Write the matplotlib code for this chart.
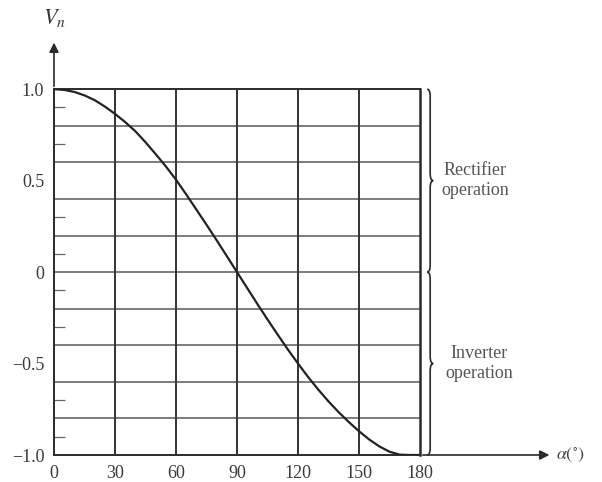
import matplotlib.pyplot as plt
from matplotlib.path import Path
from matplotlib.patches import PathPatch

plt.rcParams['font.family'] = ['Liberation Serif', 'DejaVu Serif']
plt.rcParams['mathtext.fontset'] = 'stix'

# values (alpha in degrees, normalised Vn)
alpha = [0, 5, 10, 15, 20, 25, 30, 35, 40, 45, 50, 55, 60, 65, 70, 75, 80, 85, 90,
         95, 100, 105, 110, 115, 120, 125, 130, 135, 140, 145, 150, 155, 160, 165,
         170, 175, 180]
vn = [1.0, 0.996, 0.985, 0.966, 0.94, 0.905, 0.865, 0.82, 0.77, 0.71, 0.645,
      0.578, 0.505, 0.425, 0.342, 0.259, 0.174, 0.087, 0.0, -0.087, -0.174, -0.259,
      -0.342, -0.423, -0.5, -0.574, -0.643, -0.707, -0.766, -0.82, -0.87, -0.915,
      -0.953, -0.982, -0.998, -1.0, -1.0]

x_ticks = [0, 30, 60, 90, 120, 150, 180]
y_ticks = [1.0, 0.5, 0, -0.5, -1.0]
y_tick_labels = ['1.0', '0.5', '0', '\u22120.5', '\u22121.0']
y_grid = [0.8, 0.6, 0.4, 0.2, 0.0, -0.2, -0.4, -0.6, -0.8]
y_minor = [0.9, 0.7, 0.5, 0.3, 0.1, -0.1, -0.3, -0.5, -0.7, -0.9]

ink = '#2b2b2b'
fig = plt.figure(figsize=(6.02, 4.82), dpi=100)
ax = fig.add_axes([0.0897, 0.056, 0.608, 0.759])

for y in y_grid:
    ax.axhline(y, color='#5a5a5a', lw=1.1, zorder=1)
for x in x_ticks[1:-1]:
    ax.axvline(x, color='#333333', lw=1.4, zorder=1)

ax.plot(alpha, vn, color='#222222', lw=1.6, zorder=3)

ax.set_xlim(0, 180)
ax.set_ylim(-1, 1)
for s in ax.spines.values():
    s.set_color(ink)
    s.set_linewidth(1.4)
ax.spines['right'].set_linewidth(1.8)

ax.set_xticks(x_ticks)
ax.set_xticklabels([str(v) for v in x_ticks])
ax.set_yticks(y_ticks)
ax.set_yticklabels(y_tick_labels)
ax.set_yticks(y_minor, minor=True)
ax.tick_params(which='major', length=0, labelsize=13, colors='#3a3a3a', pad=7)
ax.tick_params(axis='y', which='minor', direction='in', length=8, width=0.9, color='#666666')

# axis arrows
ax.annotate('', xy=(245, -1), xytext=(180, -1), annotation_clip=False,
            arrowprops=dict(arrowstyle='-|>', color=ink, lw=1.2, mutation_scale=14))
ax.annotate('', xy=(0, 1.27), xytext=(0, 1.0), annotation_clip=False,
            arrowprops=dict(arrowstyle='-|>', color=ink, lw=1.2, mutation_scale=14))
ax.text(247, -1, r'$\alpha(^{\circ})$', fontsize=13, color='#444444', va='center', ha='left')
ax.text(0, 1.33, r'$V_n$', fontsize=16, color='#333333', va='bottom', ha='center')


def brace(ax, x0, y_top, y_bot, w=1.5):
    mid = (y_top + y_bot) / 2
    k = 0.04
    verts = [(x0 - w, y_top), (x0, y_top), (x0, y_top - k),
             (x0, mid + k), (x0, mid), (x0 + w, mid),
             (x0, mid), (x0, mid - k),
             (x0, y_bot + k), (x0, y_bot), (x0 - w, y_bot)]
    codes = [Path.MOVETO, Path.CURVE3, Path.CURVE3,
             Path.LINETO, Path.CURVE3, Path.CURVE3,
             Path.CURVE3, Path.CURVE3,
             Path.LINETO, Path.CURVE3, Path.CURVE3]
    ax.add_patch(PathPatch(Path(verts, codes), fill=False, ec=ink, lw=1.2, clip_on=False))


brace(ax, 185, 1.0, 0.0)
brace(ax, 185, 0.0, -1.0)
ax.text(207, 0.5, 'Rectifier\noperation', fontsize=13, color='#555555',
        ha='center', va='center', linespacing=1.25)
ax.text(209, -0.5, 'Inverter\noperation', fontsize=13, color='#555555',
        ha='center', va='center', linespacing=1.25)

fig.savefig('out.png', dpi=100)
